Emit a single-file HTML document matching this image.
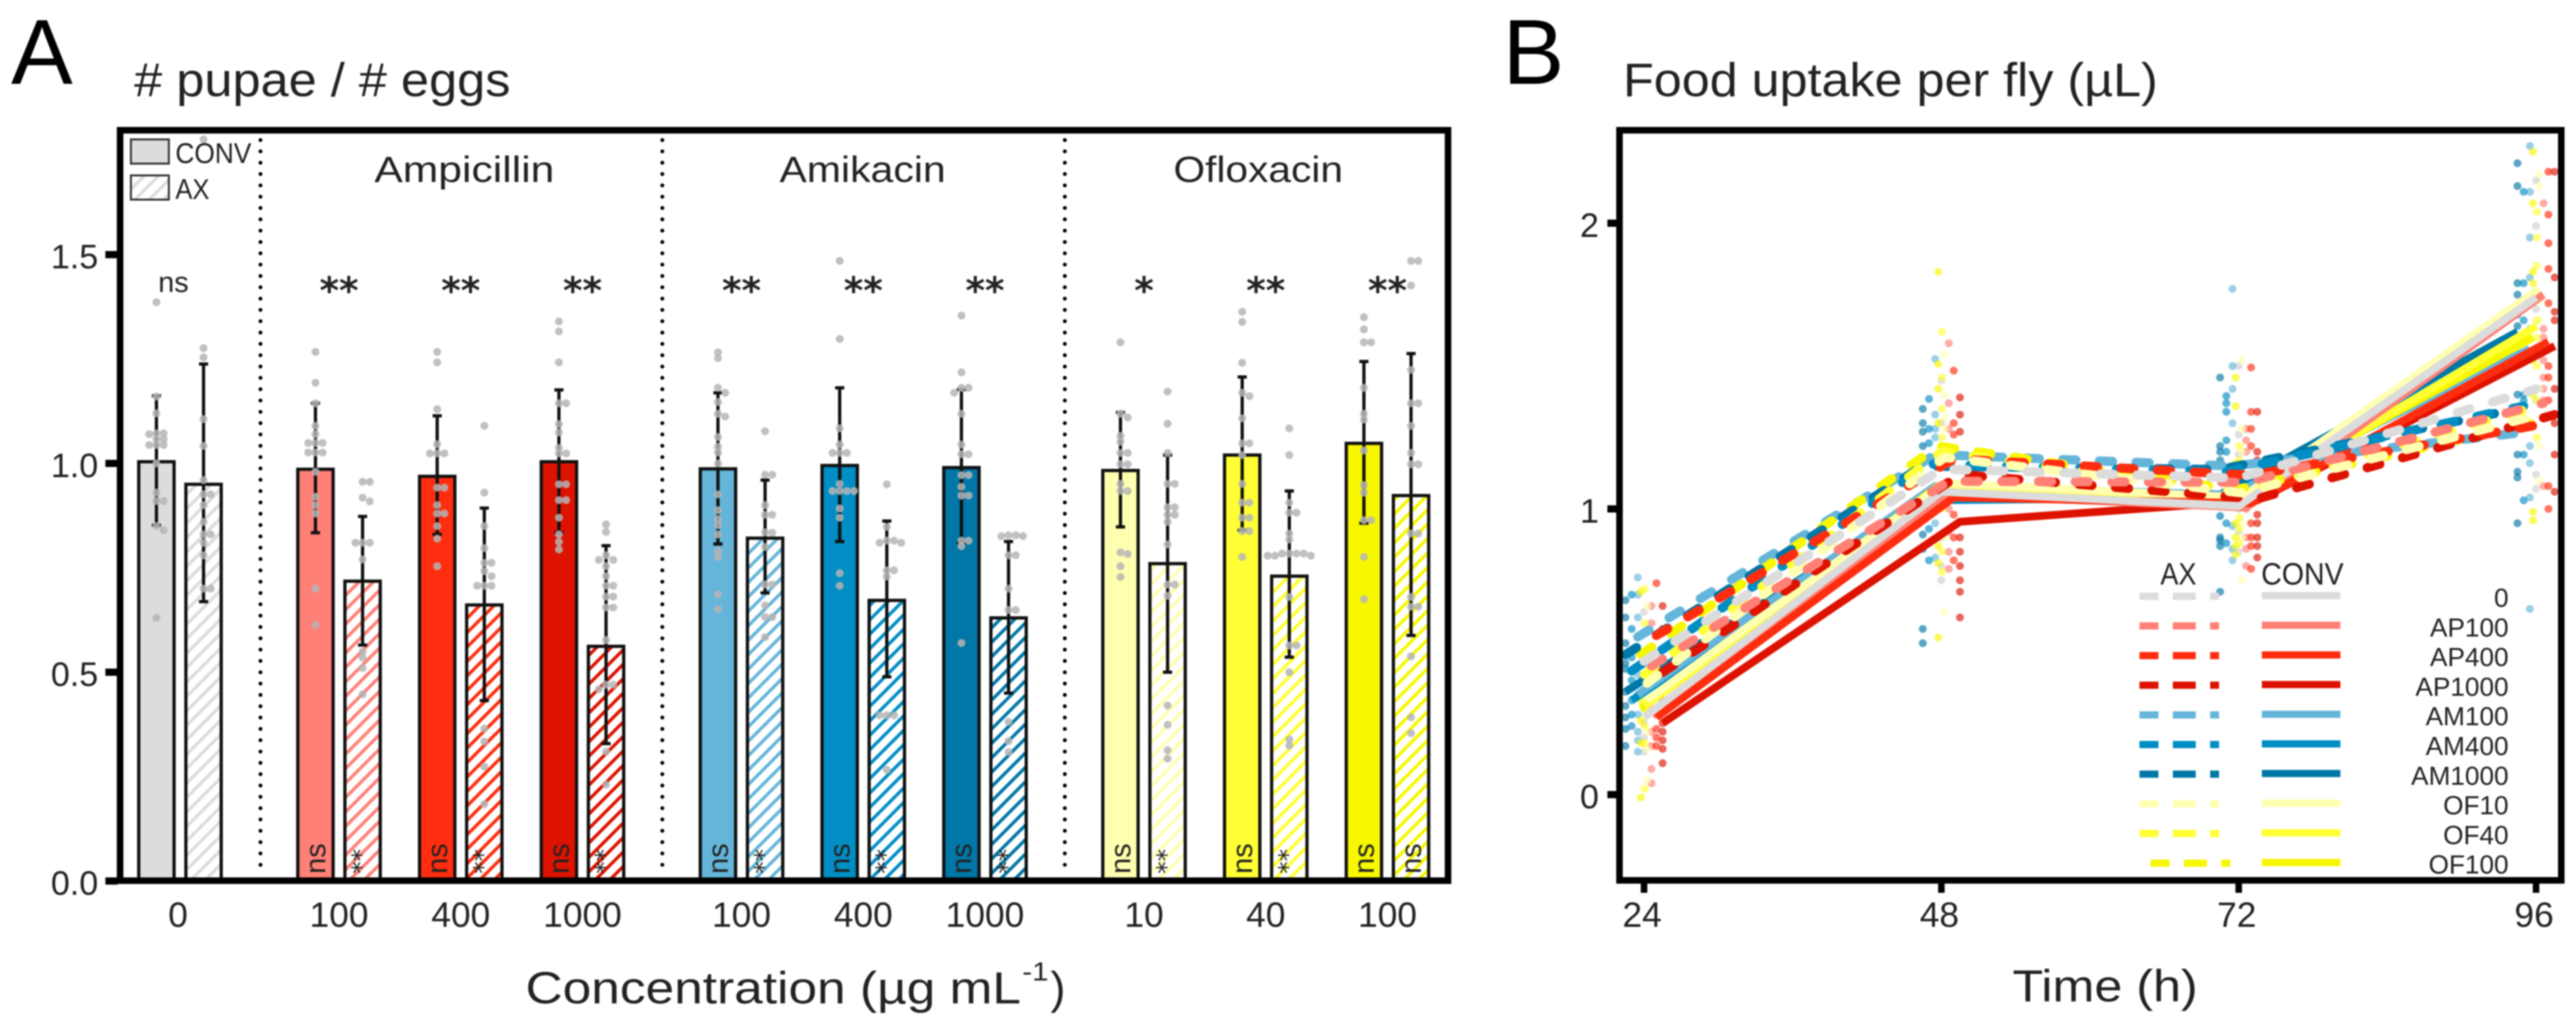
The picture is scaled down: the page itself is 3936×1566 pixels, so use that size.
<!DOCTYPE html>
<html lang="en">
<head>
<meta charset="utf-8">
<title>Pupae per egg and food uptake per fly</title>
<style>
html,body{margin:0;padding:0;background:#fff;}
svg{display:block;filter:blur(1px);}
text{font-family:"Liberation Sans",sans-serif;fill:#222;}
</style>
</head>
<body>
<svg id="chart" xmlns="http://www.w3.org/2000/svg" width="3936" height="1566" viewBox="0 0 3936 1566">
  <defs id="defs"></defs>
  <rect x="0" y="0" width="3936" height="1566" fill="#fff"/>

  <text x="17" y="128" font-size="141" style="fill:#000">A</text>
  <text x="205" y="147" font-size="72" textLength="575" lengthAdjust="spacingAndGlyphs"># pupae / # eggs</text>
  <text x="2296" y="128" font-size="141" style="fill:#000">B</text>
  <text x="2480" y="147" font-size="72" textLength="817" lengthAdjust="spacingAndGlyphs">Food uptake per fly (µL)</text>

  <g id="panel-a">
    <g id="a-dividers"></g>
    <g id="a-bars"></g>
    <g id="a-errors"></g>
    <g id="a-dots"></g>
    <g id="a-marks"></g>
    <g id="a-axes"></g>
    <text x="572" y="278" font-size="56" textLength="275" lengthAdjust="spacingAndGlyphs">Ampicillin</text>
    <text x="1191" y="278" font-size="56" textLength="254" lengthAdjust="spacingAndGlyphs">Amikacin</text>
    <text x="1793" y="278" font-size="56" textLength="259" lengthAdjust="spacingAndGlyphs">Ofloxacin</text>
    <g>
      <rect x="200" y="213" width="58" height="37" fill="#dcdcdc" stroke="#333" stroke-width="3"/>
      <text x="268" y="249" font-size="44" textLength="116" lengthAdjust="spacingAndGlyphs">CONV</text>
      <rect x="200" y="268" width="58" height="37" fill="#fff" stroke="#333" stroke-width="3"/>
      <g id="legend-ax-hatch"></g>
      <text x="268" y="304" font-size="44" textLength="52" lengthAdjust="spacingAndGlyphs">AX</text>
    </g>
    <text x="803" y="1533" font-size="69" textLength="757" lengthAdjust="spacingAndGlyphs">Concentration (µg mL</text>
    <text x="1562" y="1498" font-size="40" textLength="40" lengthAdjust="spacingAndGlyphs">-1</text>
    <text x="1605" y="1533" font-size="69">)</text>
  </g>

  <g id="panel-b">
    <g id="b-dots"></g>
    <g id="b-lines"></g>
    <g id="b-axes"></g>
    <g id="b-legend">
      <text x="3301" y="893" font-size="47" textLength="55" lengthAdjust="spacingAndGlyphs">AX</text>
      <text x="3455" y="893" font-size="47" textLength="126" lengthAdjust="spacingAndGlyphs">CONV</text>
    </g>
    <text x="3075" y="1530" font-size="69" textLength="283" lengthAdjust="spacingAndGlyphs">Time (h)</text>
  </g>
</svg>

<script>
// ---------- Panel A data ----------
const concentrations = ['0','100','400','1000','100','400','1000','10','40','100'];
const familyOfGroup = [0,1,1,1,2,2,2,3,3,3];
const barColors = ['#dcdcdc','#ff8076','#ff2d0f','#de1200','#65b5da','#008ec4','#0077a6','#ffffb0','#ffff33','#f7f700'];
const convMeans = [1.004,0.986,0.969,1.004,0.987,0.995,0.990,0.983,1.020,1.048];
const axMeans = [0.950,0.718,0.661,0.562,0.821,0.672,0.630,0.760,0.730,0.923];
const convErrHigh = [1.162,1.144,1.114,1.176,1.169,1.181,1.177,1.122,1.207,1.244];
const convErrLow = [0.852,0.834,0.830,0.834,0.807,0.813,0.810,0.848,0.840,0.857];
const axErrHigh = [1.238,0.873,0.893,0.803,0.960,0.862,0.813,1.020,0.934,1.263];
const axErrLow = [0.669,0.565,0.432,0.329,0.690,0.489,0.450,0.500,0.536,0.588];
const topMarks = ['ns','**','**','**','**','**','**','*','**','**'];
const convMarks = ['','ns','ns','ns','ns','ns','ns','ns','ns','ns'];
const axMarks = ['','**','**','**','**','**','**','**','**','ns'];
const yTicksA = [0,0.5,1.0,1.5];
const yTickLabelsA = ['0.0','0.5','1.0','1.5'];

const convDots = [
 [1.386,1.16,1.12,1.072,1.072,1.07,1.058,1.058,1.044,1.044,1.044,1.0,0.93,0.91,0.91,0.85,0.84,0.63],
 [1.267,1.193,1.144,1.09,1.07,1.049,1.049,1.049,1.026,1.026,1.026,0.98,0.92,0.90,0.88,0.70,0.613],
 [1.267,1.242,1.13,1.046,1.024,1.024,1.024,0.942,0.942,0.90,0.88,0.88,0.85,0.82,0.754],
 [1.34,1.316,1.242,1.144,1.144,1.094,1.074,1.037,1.024,1.024,0.95,0.95,0.912,0.912,0.87,0.83,0.812,0.794],
 [1.266,1.252,1.181,1.169,1.147,1.119,1.112,1.063,1.04,1.026,1.0,0.926,0.888,0.867,0.852,0.83,0.79,0.776,0.686,0.651],
 [1.485,1.298,1.084,1.045,1.025,1.025,1.025,0.951,0.934,0.934,0.934,0.934,0.892,0.87,0.737,0.707],
 [1.354,1.218,1.181,1.181,1.169,1.119,1.045,1.022,1.022,0.972,0.972,0.944,0.923,0.923,0.815,0.815,0.802,0.57],
 [1.29,1.119,1.11,1.066,1.052,1.025,1.025,0.998,0.998,0.951,0.934,0.934,0.787,0.783,0.754,0.728],
 [1.363,1.339,1.241,1.169,1.161,1.108,1.048,1.048,1.02,0.951,0.906,0.906,0.87,0.87,0.838,0.838,0.776],
 [1.35,1.321,1.29,1.29,1.181,1.119,1.105,1.031,0.948,0.93,0.864,0.864,0.776,0.675]
];
const axDots = [
 [1.776,1.276,1.254,1.106,1.042,0.96,0.926,0.926,0.9,0.86,0.83,0.83,0.81,0.78,0.70,0.70],
 [0.956,0.956,0.918,0.909,0.81,0.81,0.81,0.77,0.549,0.535,0.51,0.447],
 [1.09,0.93,0.85,0.797,0.762,0.762,0.742,0.73,0.707,0.707,0.707,0.365,0.334,0.274,0.184],
 [0.854,0.836,0.78,0.769,0.769,0.754,0.73,0.707,0.707,0.681,0.681,0.655,0.655,0.577,0.47,0.47,0.459,0.31,0.231],
 [1.077,0.973,0.973,0.90,0.877,0.877,0.835,0.834,0.80,0.71,0.71,0.66,0.632,0.632,0.584],
 [0.95,0.848,0.815,0.815,0.81,0.81,0.744,0.744,0.729,0.397,0.397,0.397,0.266],
 [0.828,0.828,0.826,0.826,0.78,0.78,0.70,0.649,0.649,0.381,0.335,0.309],
 [1.172,1.095,1.025,0.951,0.951,0.895,0.895,0.877,0.877,0.86,0.806,0.71,0.71,0.683,0.42,0.374,0.313,0.293],
 [1.084,1.02,0.906,0.882,0.882,0.832,0.818,0.784,0.784,0.784,0.784,0.779,0.779,0.779,0.68,0.564,0.564,0.5,0.339,0.324],
 [1.485,1.485,1.426,1.224,1.144,1.144,1.09,1.025,0.998,0.998,0.832,0.832,0.68,0.657,0.657,0.538,0.392,0.354]
];

// ---------- Panel B data ----------
const timePoints = [24,48,72,96];
const seriesNames = ['0','AP100','AP400','AP1000','AM100','AM400','AM1000','OF10','OF40','OF100'];
const seriesColors = ['#dcdcdc','#ff8076','#ff2d0f','#de1200','#65b5da','#008ec4','#0077a6','#ffffb0','#ffff33','#f7f700'];
const dodgeHours = [0,0.6,1.0,1.5,-0.5,-1.0,-1.5,0.25,0.05,-0.25];
const convSeries = [
 [0.27,1.06,1.01,1.74],
 [0.28,1.05,1.005,1.75],
 [0.27,1.04,1.02,1.585],
 [0.25,0.955,1.03,1.57],
 [0.35,1.08,1.05,1.56],
 [0.33,1.03,1.04,1.60],
 [0.36,1.03,1.05,1.62],
 [0.33,1.09,1.04,1.77],
 [0.31,1.07,1.02,1.64],
 [0.30,1.08,1.03,1.60]
];
const axSeries = [
 [0.467,1.139,1.108,1.42],
 [0.45,1.097,1.093,1.37],
 [0.557,1.175,1.118,1.30],
 [0.428,1.12,1.035,1.33],
 [0.552,1.19,1.15,1.27],
 [0.433,1.157,1.13,1.36],
 [0.49,1.15,1.138,1.35],
 [0.39,1.18,1.056,1.33],
 [0.42,1.2,1.056,1.36],
 [0.49,1.22,1.067,1.30]
];
const convDrawOrder = [3,6,5,4,9,8,7,1,2,0];
const axDrawOrder = [4,9,6,5,8,3,2,7,1,0];
const scatter24 = [
 [0.64,0.5,0.42,0.36,0.3,0.25,0.2,0.15],
 [0.66,0.6,0.48,0.38,0.3,0.22,0.17,0.09,0.04],
 [0.74,0.56,0.45,0.35,0.28,0.23,0.2,0.17],
 [0.66,0.58,0.42,0.37,0.33,0.25,0.22,0.19,0.16,0.11],
 [0.76,0.7,0.62,0.5,0.42,0.35,0.28,0.22,0.19,0.15],
 [0.7,0.58,0.48,0.4,0.33,0.28,0.24],
 [0.68,0.62,0.53,0.46,0.44,0.36,0.31,0.27,0.23,0.17],
 [0.66,0.42,0.34,0.28,0.22,0.16,0.05],
 [0.72,0.6,0.4,0.3,0.24,0.18,0.02],
 [0.71,0.46,0.33,0.26,0.18,-0.01]
];
const scatter48 = [
 [1.45,1.3,1.2,0.9,0.8,0.75],
 [1.58,1.37,1.28,1.0,0.92,0.85,0.79],
 [1.484,1.3,1.26,0.98,0.9,0.82],
 [1.39,1.33,1.27,0.9,0.85,0.8,0.75,0.71,0.62],
 [1.525,1.33,1.28,1.25,0.95,0.83],
 [1.385,1.28,1.23,1.0,0.93,0.88,0.82],
 [1.35,1.3,1.27,1.22,0.97,0.91,0.86,0.58,0.53],
 [1.54,1.4,1.32,1.28,0.9,0.64],
 [1.62,1.46,1.35,1.25,1.0,0.85,0.78],
 [1.83,1.507,1.42,1.3,0.87,0.81,0.55]
];
const scatter72 = [
 [1.5,1.26,1.19,1.0,0.92,0.85],
 [1.28,1.24,1.2,1.0,0.9,0.86,0.8],
 [1.495,1.34,1.28,1.22,0.95,0.9,0.87,0.79],
 [1.34,1.2,1.17,0.98,0.95,0.9,0.87,0.83],
 [1.77,1.5,1.42,1.3,0.94,0.86,0.82],
 [1.395,1.37,1.34,1.24,1.2,0.95,0.88],
 [1.46,1.22,1.2,1.17,0.975,0.9,0.89,0.87,0.71],
 [1.52,1.28,1.2,0.95,0.9,0.75],
 [1.22,1.17,0.97,0.93,0.88],
 [1.46,1.36,1.16,0.95,0.9,0.87,0.84]
];
const scatter96 = [
 [2.15,1.99,1.7,1.42,1.38,1.12,1.07],
 [2.07,1.6,1.63,1.52,1.46,1.42,1.38,1.08],
 [2.18,2.03,1.93,1.84,1.72,1.5,1.46,1.38,1.08,1.0],
 [2.18,1.81,1.69,1.66,1.42,1.3,1.19,1.06],
 [2.27,2.11,1.95,1.81,1.63,1.22,1.16,1.04,0.65],
 [2.11,1.79,1.66,1.4,1.38,1.19,1.03],
 [2.21,2.13,1.79,1.75,1.68,1.64,1.4,1.19,1.13,1.11,0.95],
 [2.17,2.13,1.73,1.66,1.42,1.22,1.1],
 [2.04,1.95,1.85,1.66,1.6,1.5,1.38,1.25],
 [2.25,2.07,1.83,1.79,1.52,1.4,0.99,0.96]
];
const scatterByTime = [scatter24,scatter48,scatter72,scatter96];
const yTicksB = [0,1,2];
const yTickLabelsB = ['0','1','2'];
const xTickLabelsB = ['24','48','72','96'];

// ---------- Scales ----------
function yA(v){ return 1346 - 638*v; }
function xGroup(i){ return 275 + 186*i + 57*familyOfGroup[i]; }
function yB(v){ return 1214 - 436.5*v; }
function xTime(t){ return 2512 + (t-24)*18.93; }
function xSeries(t,s){ return xTime(t) + dodgeHours[s]*18.93; }

const NS = 'http://www.w3.org/2000/svg';
function make(tag, attrs, parent){
  const el = document.createElementNS(NS, tag);
  for (const k in attrs) el.setAttribute(k, attrs[k]);
  parent.appendChild(el);
  return el;
}
const $ = id => document.getElementById(id);

// Beeswarm offsets so identical values sit side by side
function swarm(values){
  const placed = [];
  return values.map(v => {
    const py = yA(v);
    for (const k of [0,1,-1,2,-2,3,-3]) {
      if (!placed.some(p => p.k === k && Math.abs(p.y-py) < 8)) {
        placed.push({k:k,y:py});
        return k*11;
      }
    }
    return 0;
  });
}

// ---------- Hatch patterns ----------
barColors.forEach((c,i) => {
  const p = make('pattern',{id:'hatch'+i,patternUnits:'userSpaceOnUse',width:15.6,height:15.6,patternTransform:'rotate(45)'},$('defs'));
  make('rect',{x:0,y:0,width:15.6,height:15.6,fill:'#fff'},p);
  make('rect',{x:0,y:0,width:5,height:15.6,fill:c},p);
});
const legendHatchEl = make('rect',{x:201.5,y:269.5,width:55,height:34,fill:'url(#hatch0)'},$('legend-ax-hatch'));



// ---------- Panel A ----------
[398,1012,1627].forEach(x => {
  const d = make('line',{x1:x,x2:x,y1:214,y2:1338,stroke:'#000','stroke-width':6,'stroke-linecap':'round','stroke-dasharray':'0 17.3'},$('a-dividers'));
  
  
});

function drawBar(i, offset, mean, lo, hi, dots, fill, mark){
  const cx = xGroup(i) + offset;
  const bar = make('rect',{x:cx-27,y:yA(mean),width:54,height:yA(0)-yA(mean),fill:fill,stroke:'#111','stroke-width':5},$('a-bars'));
  
  

  const err = make('line',{x1:cx,x2:cx,y1:yA(hi),y2:yA(lo),stroke:'#111','stroke-width':5},$('a-errors'));
  
  
  [hi,lo].forEach(v => {
    const cap = make('line',{x1:cx-7,x2:cx+7,y1:yA(v),y2:yA(v),stroke:'#111','stroke-width':5},$('a-errors'));
    
    
  });

  const off = swarm(dots);
  dots.forEach((v,k) => {
    const dot = make('circle',{cx:cx+off[k],cy:yA(v),r:6,fill:'#b5b5b5','fill-opacity':0.85},$('a-dots'));
    
    
  });

  if (mark) {
    const tx = mark === 'ns' ? cx+15 : cx+11;
    const t = make('text',{x:tx,y:1335,'font-size':mark==='ns'?44:38,transform:'rotate(-90 '+tx+' 1335)'},$('a-marks'));
    t.textContent = mark;
    if (mark !== 'ns') t.style.fontFamily = '"DejaVu Sans",sans-serif';
    
    
  }
}

concentrations.forEach((label,i) => {
  drawBar(i,-36,convMeans[i],convErrLow[i],convErrHigh[i],convDots[i],barColors[i],convMarks[i]);
  drawBar(i, 36,axMeans[i],axErrLow[i],axErrHigh[i],axDots[i],'url(#hatch'+i+')',axMarks[i]);

  const tick = make('text',{x:xGroup(i)-(i===0?3:0),y:1416,'font-size':54,'text-anchor':'middle'},$('a-axes'));
  tick.textContent = label;
  
  

  const m = topMarks[i];
  const top = make('text',{x:xGroup(i)-(m==='ns'?10:0),y:m==='ns'?446:464,'font-size':m==='ns'?44:57,'text-anchor':'middle','font-weight':m==='ns'?'normal':'bold'},$('a-marks'));
  top.textContent = m;
  if (m !== 'ns') top.style.fontFamily = '"DejaVu Sans",sans-serif';
  
  
});

const frameA = make('rect',{x:183.5,y:199,width:2029,height:1146.5,fill:'none',stroke:'#000','stroke-width':10},$('a-axes'));


yTicksA.forEach((v,i) => {
  const t = make('line',{x1:161,x2:180,y1:yA(v),y2:yA(v),stroke:'#000','stroke-width':11},$('a-axes'));
  
  
  const l = make('text',{x:150,y:yA(v)+21,'font-size':52,'text-anchor':'end'},$('a-axes'));
  l.textContent = yTickLabelsA[i];
  
  
});

// ---------- Panel B ----------
scatterByTime.forEach((byS,ti) => {
  byS.forEach((vals,s) => {
    vals.forEach(v => {
      const d = make('circle',{cx:xSeries(timePoints[ti],s),cy:yB(v),r:6,fill:seriesColors[s]==='#dcdcdc'?'#cfcfcf':seriesColors[s],'fill-opacity':0.65},$('b-dots'));
      
      
    });
  });
});

function seriesPath(values,s){
  return values.map((v,k) => (k?'L':'M')+xSeries(timePoints[k],s).toFixed(1)+' '+yB(v).toFixed(1)).join(' ');
}
convDrawOrder.forEach(s => {
  const l = make('path',{d:seriesPath(convSeries[s],s),fill:'none',stroke:seriesColors[s],'stroke-width':12,'stroke-linejoin':'round'},$('b-lines'));
  
  
});
axDrawOrder.forEach(s => {
  const l = make('path',{d:seriesPath(axSeries[s],s),fill:'none',stroke:seriesColors[s],'stroke-width':14,'stroke-linecap':'round','stroke-linejoin':'round','stroke-dasharray':'20 36'},$('b-lines'));
  
  
});

const frameB = make('rect',{x:2474.5,y:199,width:1439,height:1146,fill:'none',stroke:'#000','stroke-width':10},$('b-axes'));


yTicksB.forEach((v,i) => {
  const t = make('line',{x1:2456,x2:2471,y1:yB(v),y2:yB(v),stroke:'#000','stroke-width':11},$('b-axes'));
  
  
  const l = make('text',{x:2443,y:yB(v)+21,'font-size':52,'text-anchor':'end'},$('b-axes'));
  l.textContent = yTickLabelsB[i];
  
  
});
timePoints.forEach((tp,i) => {
  const t = make('line',{x1:xTime(tp),x2:xTime(tp),y1:1349,y2:1364,stroke:'#000','stroke-width':10},$('b-axes'));
  
  
  const l = make('text',{x:xTime(tp)-3,y:1416,'font-size':54,'text-anchor':'middle'},$('b-axes'));
  l.textContent = xTickLabelsB[i];
  
  
});

seriesNames.forEach((name,i) => {
  const rowY = 911 + 45.3*i;
  const shift = i === 9 ? 17 : 0;
  const ax = make('line',{x1:3269+shift,x2:3390.6+shift,y1:rowY,y2:rowY,stroke:seriesColors[i],'stroke-width':11,'stroke-dasharray':'29 22 35 22 14'},$('b-legend'));
  
  
  const conv = make('line',{x1:3456,x2:3576,y1:rowY-1,y2:rowY-1,stroke:seriesColors[i],'stroke-width':11},$('b-legend'));
  
  
  const t = make('text',{x:3833,y:rowY+16,'font-size':40,'text-anchor':'end'},$('b-legend'));
  t.textContent = name;
  
  
});
</script>
</body>
</html>
